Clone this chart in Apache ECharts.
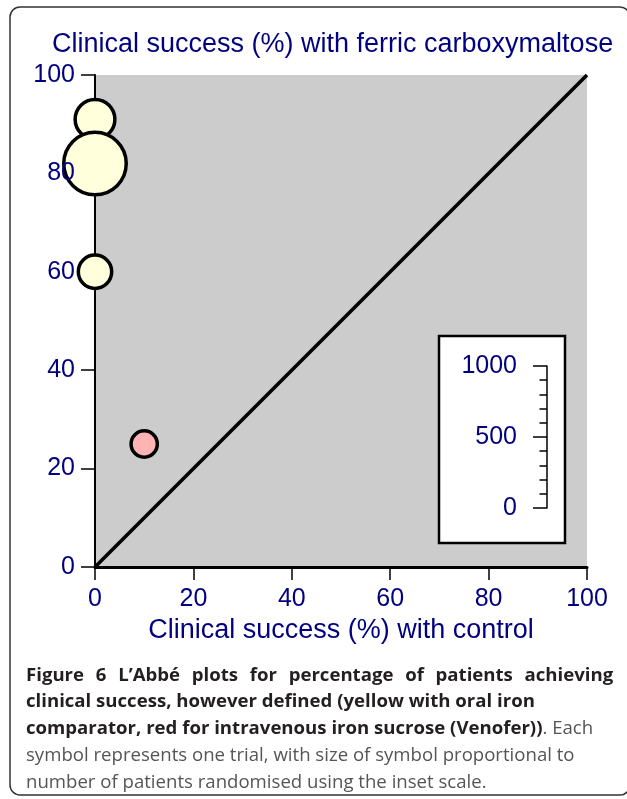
<!DOCTYPE html>
<html>
<head>
<meta charset="utf-8">
<script src="https://cdn.jsdelivr.net/npm/echarts@6/dist/echarts.min.js"></script>
<style>
  html, body { margin: 0; padding: 0; background: #fff; }
  #chart { width: 627px; height: 799px; }
</style>
</head>
<body>
<div id="chart"></div>
<script>
// oral iron comparator trials (yellow)
const oralControl = [0, 0, 0];
const oralFcm = [91, 82, 60];
const oralPatients = [280, 440, 235];
// intravenous iron sucrose trial (red)
const ivControl = [10];
const ivFcm = [25];
const ivPatients = [185];
// axis ticks
const pctTicks = [0, 20, 40, 60, 80, 100];
const insetTicks = [0, 500, 1000];

const navy = '#000080';
const insetHeight = 142; // px spanned by inset scale 0..1000
const insetMax = insetTicks[insetTicks.length - 1];

function sizeOf(d) {
  return d[2] * insetHeight / insetMax;
}

const oralData = oralControl.map((x, i) => [x, oralFcm[i], oralPatients[i]]);
const ivData = ivControl.map((x, i) => [x, ivFcm[i], ivPatients[i]]);

// first caption line is set wide in the original
const words1 = 'Figure 6 L\u2019Abbé plots for percentage of patients achieving'.split(' ');
const line1 = words1.map((w, i) => (i < words1.length - 1 ? '{j|' : '{b|') + w + '}').join(' ');

const option = {
  animation: false,
  title: {
    text: 'Clinical success (%) with ferric carboxymaltose',
    left: 47,
    top: 26,
    textStyle: { color: navy, fontSize: 27, fontWeight: 'normal', fontFamily: 'Liberation Sans' }
  },
  grid: [
    { left: 95, top: 75, width: 492, height: 492, show: true, backgroundColor: '#cccccc', borderWidth: 0 },
    { left: 547, top: 366, width: 10, height: insetHeight, show: false }
  ],
  xAxis: [
    {
      type: 'value', gridIndex: 0, min: pctTicks[0], max: pctTicks[pctTicks.length - 1], interval: 20,
      name: 'Clinical success (%) with control',
      nameLocation: 'middle', nameGap: 49,
      nameTextStyle: { color: navy, fontSize: 27, fontFamily: 'Liberation Sans' },
      splitLine: { show: false },
      axisLine: { lineStyle: { color: '#000', width: 3 } },
      axisTick: { length: 13, lineStyle: { color: '#000', width: 1.5 } },
      axisLabel: { color: navy, fontSize: 25, margin: 20, fontFamily: 'Liberation Sans' }
    },
    { type: 'value', gridIndex: 1, show: false, min: 0, max: 1 }
  ],
  yAxis: [
    {
      type: 'value', gridIndex: 0, position: 'left', min: 0, max: 100, interval: 20, z: 0,
      splitLine: { show: false },
      axisLine: { lineStyle: { color: '#000', width: 2 } },
      axisTick: { length: 14, lineStyle: { color: '#000', width: 1.5 } },
      axisLabel: { show: false }
    },
    {
      type: 'value', gridIndex: 0, position: 'left', offset: 0, min: 0, max: 100, interval: 20, z: 10,
      splitLine: { show: false },
      axisLine: { show: false },
      axisTick: { show: false },
      axisLabel: { color: navy, fontSize: 25, margin: 20, fontFamily: 'Liberation Sans' }
    },
    {
      type: 'value', gridIndex: 1, position: 'left', min: insetTicks[0], max: insetMax, interval: 500, z: 10,
      splitLine: { show: false },
      axisLine: { lineStyle: { color: '#000', width: 1.5 } },
      axisTick: { length: 14, lineStyle: { color: '#000', width: 1.5 } },
      minorTick: { show: true, splitNumber: 5, length: 7.5, lineStyle: { color: '#000', width: 1.5 } },
      axisLabel: { color: navy, fontSize: 25, margin: 30, fontFamily: 'Liberation Sans', formatter: v => String(v) }
    }
  ],
  graphic: [
    {
      type: 'rect', z: 0,
      shape: { x: 10, y: 7, width: 620, height: 788, r: 10 },
      style: { fill: 'none', stroke: '#333', lineWidth: 1.5 }
    },
    {
      type: 'rect', z: 5,
      shape: { x: 439, y: 336, width: 126, height: 207 },
      style: { fill: '#fff', stroke: '#000', lineWidth: 2.5 }
    },
    {
      type: 'text', left: 26, top: 666, z: 5,
      style: {
        text: line1 + '\n' +
              '{b|clinical success, however defined (yellow with oral iron}\n' +
              '{b|comparator, red for intravenous iron sucrose (Venofer))}{n|. Each}\n' +
              '{n|symbol represents one trial, with size of symbol proportional to}\n' +
              '{n|number of patients randomised using the inset scale.}',
        rich: {
          j: { fontFamily: 'Open Sans', fontWeight: 'bold', fontSize: 18.6, lineHeight: 26.7, fill: '#231f20', padding: [0, 8.4, 0, 0] },
          b: { fontFamily: 'Open Sans', fontWeight: 'bold', fontSize: 18.6, lineHeight: 26.7, fill: '#231f20' },
          n: { fontFamily: 'Open Sans', fontSize: 18.6, lineHeight: 26.7, fill: '#555' }
        }
      }
    }
  ],
  series: [
    {
      type: 'line', xAxisIndex: 0, yAxisIndex: 0, z: 1,
      data: [[0, 0], [100, 100]],
      showSymbol: false, symbol: 'none',
      lineStyle: { color: '#000', width: 3.5 }
    },
    {
      type: 'scatter', xAxisIndex: 0, yAxisIndex: 0, z: 3,
      data: oralData,
      symbolSize: sizeOf,
      itemStyle: { color: '#ffffdb', borderColor: '#000', borderWidth: 3.5, opacity: 1 }
    },
    {
      type: 'scatter', xAxisIndex: 0, yAxisIndex: 0, z: 3,
      data: ivData,
      symbolSize: sizeOf,
      itemStyle: { color: '#ffb3b3', borderColor: '#000', borderWidth: 3.5, opacity: 1 }
    }
  ]
};

const myChart = echarts.init(document.getElementById('chart'));
myChart.setOption(option);
</script>
</body>
</html>
